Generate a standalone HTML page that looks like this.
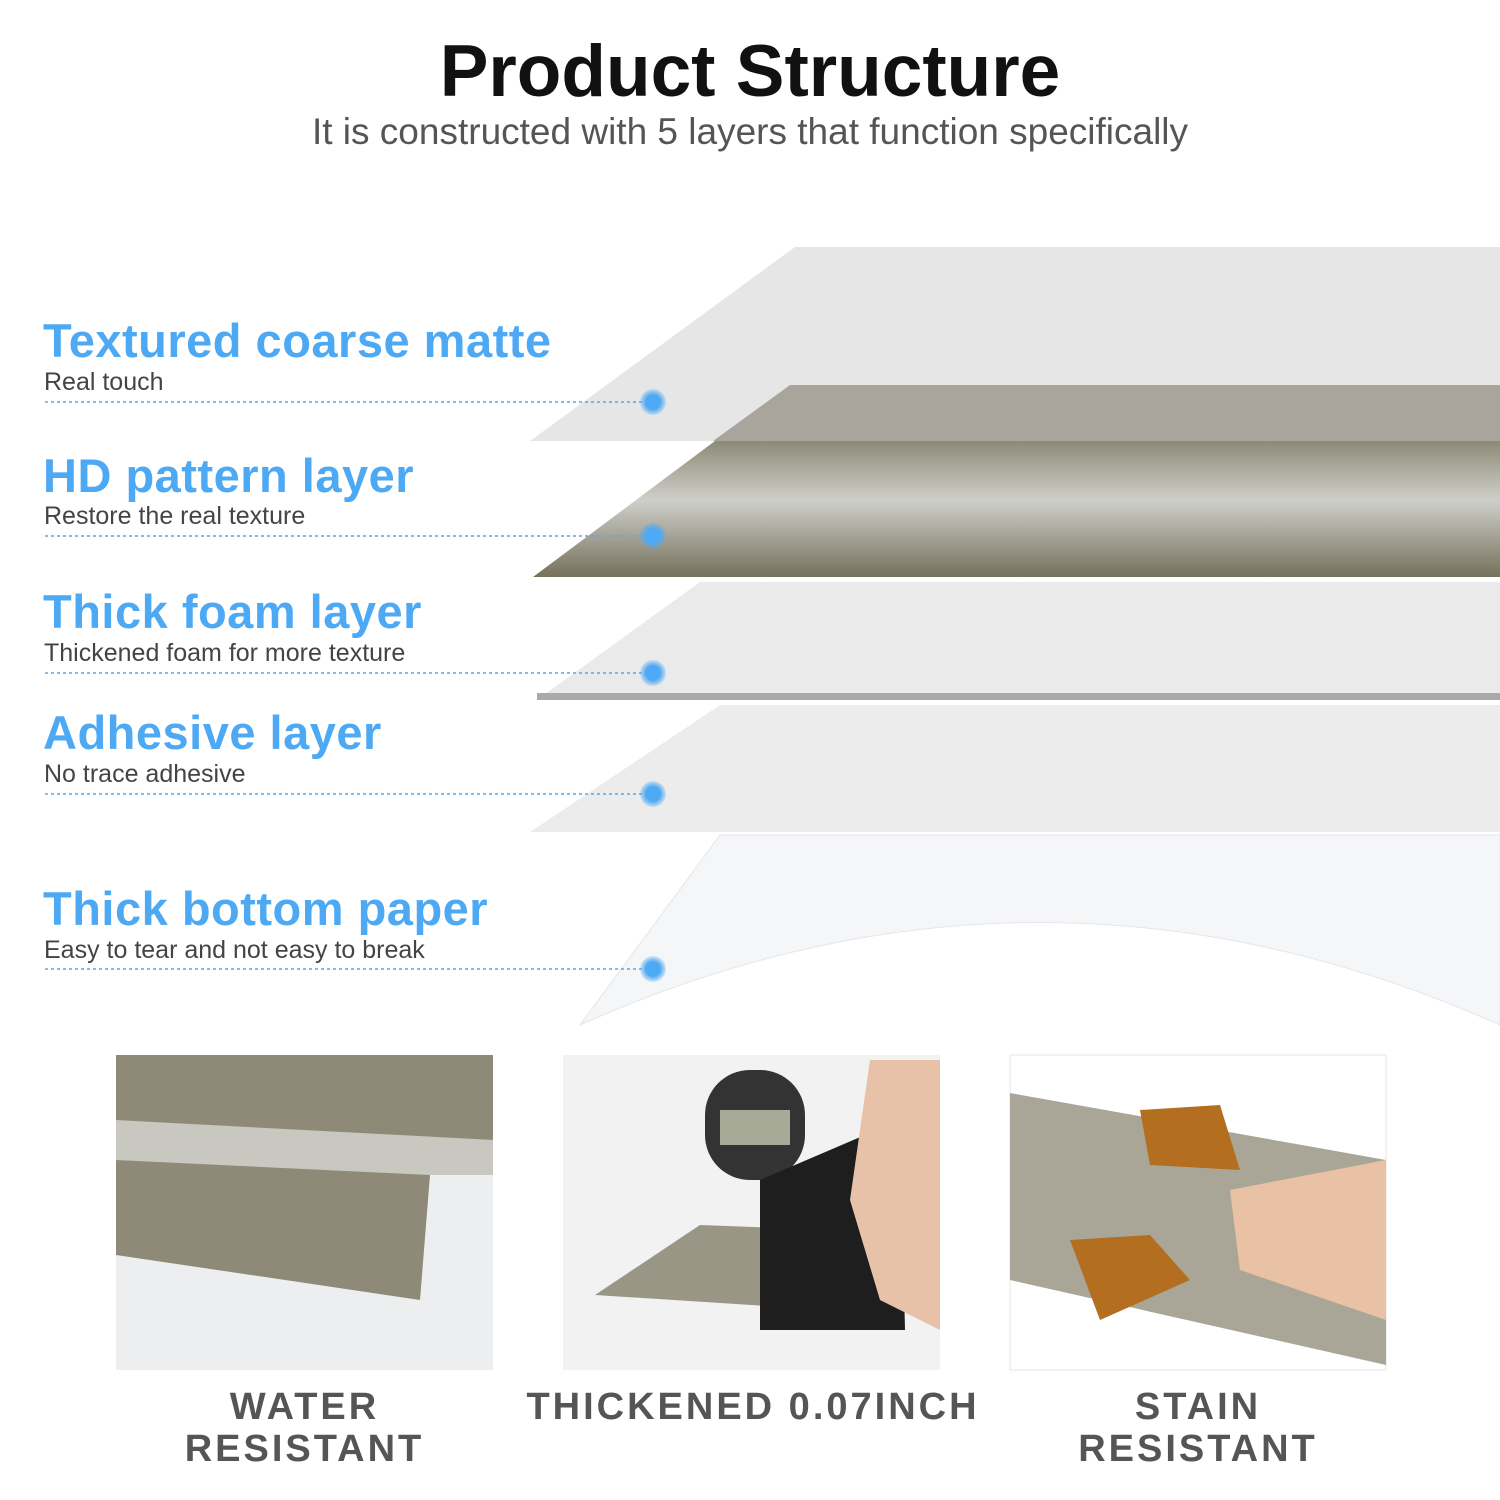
<!DOCTYPE html>
<html><head><meta charset="utf-8"><style>
body{margin:0;width:1500px;height:1500px;background:#fff;position:relative;overflow:hidden;font-family:"Liberation Sans",sans-serif}
.t{position:absolute;left:0;width:1500px;text-align:center}
.h{position:absolute;left:43px;color:#4ea9f4;font-weight:bold;font-size:47px;letter-spacing:0.5px}
.s{position:absolute;left:44px;color:#444;font-size:25px}
.cap{position:absolute;color:#555;font-weight:bold;font-size:38px;letter-spacing:3px;text-align:center;line-height:42px}
</style></head><body>
<div class="t" style="top:30px;font-size:73px;font-weight:bold;color:#111">Product Structure</div>
<div class="t" style="top:111px;font-size:37px;color:#555">It is constructed with 5 layers that function specifically</div>
<svg width="1500" height="1500" style="position:absolute;left:0;top:0">
<defs>
<linearGradient id="w" x1="0" y1="0" x2="0" y2="1"><stop offset="0" stop-color="#d9d9d4"/><stop offset="0.3" stop-color="#8e8c78"/><stop offset="0.6" stop-color="#cfcfca"/><stop offset="1" stop-color="#75715c"/></linearGradient>
<radialGradient id="d"><stop offset="0.55" stop-color="#4ea9f4"/><stop offset="1" stop-color="#4ea9f4" stop-opacity="0.2"/></radialGradient>
</defs>
<path d="M580,1025 L720,835 L1500,835 L1500,1025 Q1040,820 580,1025Z" fill="#f5f6f8" stroke="#e4e6ea"/>
<polygon points="530,832 720,705 1500,705 1500,832" fill="#ececec"/>
<polygon points="537,700 700,582 1500,582 1500,700" fill="#eaeaea"/>
<rect x="537" y="693" width="963" height="7" fill="#aaa"/>
<polygon points="533,577 790,385 1500,385 1500,577" fill="url(#w)"/>
<polygon points="530,441 795,247 1500,247 1500,385 790,385 713,441" fill="#e6e6e6"/>
<polygon points="713,441 790,385 1500,385 1500,441" fill="#a9a59d"/>
<g stroke="#4ea9f4" stroke-width="1.5" stroke-dasharray="3,3">
<line x1="45" y1="402" x2="645" y2="402"/><line x1="45" y1="536" x2="645" y2="536"/><line x1="45" y1="673" x2="645" y2="673"/><line x1="45" y1="794" x2="645" y2="794"/><line x1="45" y1="969" x2="645" y2="969"/></g>
<g fill="url(#d)"><circle cx="653" cy="402" r="13"/><circle cx="653" cy="536" r="13"/><circle cx="653" cy="673" r="13"/><circle cx="653" cy="794" r="13"/><circle cx="653" cy="969" r="13"/></g>
<rect x="116" y="1055" width="377" height="315" fill="#eceeef"/>
<polygon points="116,1055 493,1055 493,1175 430,1175 420,1300 116,1255" fill="#8f8a78"/>
<polygon points="116,1120 493,1140 493,1175 430,1175 116,1160" fill="#c9c8c0"/>
<rect x="563" y="1055" width="377" height="315" fill="#f2f2f2"/>
<polygon points="595,1295 700,1225 830,1230 830,1310" fill="#9a9686"/>
<rect x="705" y="1070" width="100" height="110" rx="45" fill="#333"/>
<rect x="720" y="1110" width="70" height="35" fill="#a8aa98"/>
<path d="M760,1180 L900,1120 L905,1330 L760,1330Z" fill="#1e1e1e"/>
<path d="M870,1060 L940,1060 L940,1330 L880,1300 L850,1200Z" fill="#e8c2a8"/>
<rect x="1010" y="1055" width="376" height="315" fill="#fff" stroke="#e5e5e5"/>
<polygon points="1010,1093 1386,1160 1386,1365 1010,1280" fill="#a9a698"/>
<path d="M1140,1110 L1220,1105 L1240,1170 L1150,1165Z M1070,1240 L1150,1235 L1190,1280 L1100,1320Z" fill="#b36e1f"/>
<path d="M1230,1190 L1386,1160 L1386,1320 L1240,1270Z" fill="#e9c1a4"/>
</svg>
<div class="h" style="top:313px">Textured coarse matte</div>
<div class="s" style="top:368px">Real touch</div>
<div class="h" style="top:448px">HD pattern layer</div>
<div class="s" style="top:502px">Restore the real texture</div>
<div class="h" style="top:584px">Thick foam layer</div>
<div class="s" style="top:639px">Thickened foam for more texture</div>
<div class="h" style="top:705px">Adhesive layer</div>
<div class="s" style="top:760px">No trace adhesive</div>
<div class="h" style="top:881px">Thick bottom paper</div>
<div class="s" style="top:936px">Easy to tear and not easy to break</div>
<div class="cap" style="left:116px;width:377px;top:1386px">WATER<br>RESISTANT</div>
<div class="cap" style="left:503px;width:500px;top:1386px">THICKENED 0.07INCH</div>
<div class="cap" style="left:1010px;width:376px;top:1386px">STAIN<br>RESISTANT</div>
</body></html>
